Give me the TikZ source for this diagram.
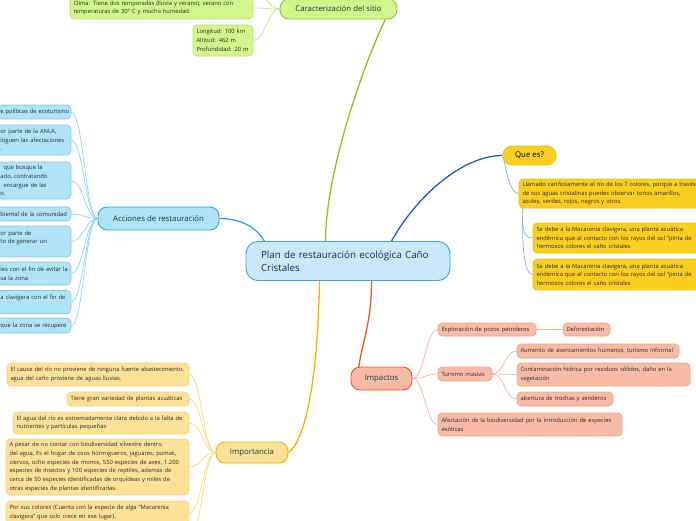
\documentclass[tikz,border=0pt]{standalone}
\usepackage{fontspec}
\setmainfont{Open Sans}
\usetikzlibrary{calc,backgrounds}

\definecolor{centerfill}{HTML}{C9E9FB}
\definecolor{centerline}{HTML}{3AA3DD}
\definecolor{centerink}{HTML}{1B2A5E}
\definecolor{topicink}{HTML}{0E3B43}
\definecolor{leafink}{HTML}{2B2B2B}
\definecolor{sitefill}{HTML}{D3F38B}
\definecolor{siteline}{HTML}{8BC540}
\definecolor{sitetrunk}{HTML}{8DC21F}
\definecolor{sitetwig}{HTML}{C5E88A}
\definecolor{actfill}{HTML}{B0E2F8}
\definecolor{actline}{HTML}{2EA3E3}
\definecolor{actleaf}{HTML}{7FCDEF}
\definecolor{acttwig}{HTML}{8CD3F3}
\definecolor{whatfill}{HTML}{F8CF1E}
\definecolor{whatline}{HTML}{E9C21A}
\definecolor{whattrunk}{HTML}{1D5FC4}
\definecolor{whattwig}{HTML}{8FB6E3}
\definecolor{hitfill}{HTML}{F8BBA6}
\definecolor{hitline}{HTML}{E8572C}
\definecolor{hitleaf}{HTML}{F3A286}
\definecolor{hittwig}{HTML}{F8B49C}
\definecolor{keyfill}{HTML}{FDE197}
\definecolor{keyline}{HTML}{F5B400}
\definecolor{keyleaf}{HTML}{FBD27C}
\definecolor{keytwig}{HTML}{FBD77F}

\newcommand{\leaftext}{\fontsize{5.8}{8.7}\selectfont}
\newcommand{\topictext}{\fontsize{7.8}{9}\selectfont}
\newcommand{\centertext}{\fontsize{9.8}{13}\selectfont}

\tikzset{
  topic/.style={draw, rounded corners=9pt, line width=0.9pt, font=\topictext,
    text=topicink, inner sep=0pt},
  leaf/.style={draw, rounded corners=4pt, line width=0.6pt, font=\leaftext,
    text=leafink, align=left, inner xsep=3.5pt, inner ysep=0pt},
  cutleaf/.style={leaf, draw=actleaf, fill=actfill, text width=67pt},
  trunk/.style={line width=1.3pt},
  twigW/.style={line width=0.7pt, out=180, in=0, distance=12pt},
  twigE/.style={line width=0.7pt, out=0, in=180, distance=12pt}
}

\begin{document}
\begin{tikzpicture}[x=1pt, y=-1pt]
\useasboundingbox (0,0) rectangle (696,520);
\clip (0,0) rectangle (696,520);

% centre
\node[draw=centerline, fill=centerfill, line width=0.9pt, rounded corners=12pt,
  font=\centertext, text=centerink, align=left, text width=174pt, inner xsep=15pt,
  minimum width=204pt, minimum height=39pt] (cen) at (348,261)
  {Plan de restauración ecológica Caño\\Cristales};

% Caracterizacion del sitio
\node[topic, draw=siteline, fill=sitefill, minimum width=117pt, minimum height=20pt]
  (car) at (338.5,9) {Caracterización del sitio};
\node[leaf, draw=sitefill!70!siteline, fill=sitefill, text width=176pt, minimum height=22pt]
  (clima) at (161.5,8) {Clima: Tiene dos temporadas (lluvia y verano), verano con\\temperaturas de 30° C y mucha humedad.};
\node[leaf, draw=sitefill!70!siteline, fill=sitefill, text width=53pt, minimum height=31pt]
  (medidas) at (223,40.5) {Longitud: 100 km\\Altitud: 462 m\\Profundidad: 20 m};
\coordinate (carmore) at (255,-8);

% Acciones de restauracion
\node[topic, draw=actline, fill=actfill, minimum width=121pt, minimum height=23pt]
  (acc) at (158.5,218.5) {Acciones de restauración};
\node[cutleaf, minimum height=14pt]
  (acc1) at (34,112) {\mbox{e políticas de ecoturismo}};
\node[cutleaf, minimum height=30pt]
  (acc2) at (34,140) {\mbox{or parte de la ANLA,}\\\mbox{itiguen las afectaciones}\\.};
\node[cutleaf, minimum height=37pt]
  (acc3) at (34,180.5) {\hspace*{3pt}\mbox{que busque la}\\\mbox{ado, contratando}\\\hspace*{3pt}\mbox{encargue de las}\\o.};
\node[cutleaf, minimum height=14pt]
  (acc4) at (34,214) {\mbox{biental de la comunidad}};
\node[cutleaf, minimum height=31pt]
  (acc5) at (34,241.5) {\mbox{or parte de}\\\mbox{to de generar un}\\\mbox{}};
\node[cutleaf, minimum height=23pt]
  (acc6) at (34,273.5) {\mbox{les con el fin de evitar la}\\\mbox{sa la zona}};
\node[cutleaf, minimum height=23pt]
  (acc7) at (34,302) {\mbox{a clavigera con el fin de}\\\mbox{}};
\node[cutleaf, minimum height=15pt]
  (acc8) at (34,325.5) {\mbox{que la zona se recupere}};

% Que es?
\node[topic, draw=whatline, fill=whatfill, text=black, minimum width=53pt, minimum height=19pt]
  (what) at (529.5,155.5) {Que es?};
\node[leaf, draw=whatline, fill=whatfill, text width=181pt, minimum height=29pt]
  (what1) at (613,193.5) {Llamado cariñosamente el río de los 7 colores, porque a través\\de sus aguas cristalinas puedes observar tonos amarillos,\\azules, verdes, rojos, negros y otros.};
\node[leaf, draw=whatline, fill=whatfill, text width=170pt, minimum height=30pt]
  (what2) at (621.5,238) {Se debe a la Macarenia clavigera, una planta acuática\\endémica que al contacto con los rayos del sol "pinta de\\hermosos colores el caño cristales};
\node[leaf, draw=whatline, fill=whatfill, text width=170pt, minimum height=31pt]
  (what3) at (621.5,274.5) {Se debe a la Macarenia clavigera, una planta acuática\\endémica que al contacto con los rayos del sol "pinta de\\hermosos colores el caño cristales};

% Impactos
\node[topic, draw=hitline, fill=hitfill, minimum width=61pt, minimum height=23pt]
  (hit) at (381.5,378.5) {Impactos};
\node[leaf, draw=hitleaf, fill=hitfill, text width=91pt, minimum height=13pt]
  (pozos) at (487,329.5) {Exploración de pozos petroleros};
\node[leaf, draw=hitleaf, fill=hitfill, text width=40pt, minimum height=13pt]
  (defo) at (586.5,329.5) {Deforestación};
\node[leaf, draw=hitleaf, fill=hitfill, text width=47pt, minimum height=14pt]
  (turismo) at (465,374) {Turismo masivo};
\node[leaf, draw=hitleaf, fill=hitfill, text width=155pt, minimum height=14pt]
  (asent) at (598,351) {Aumento de asentamientos humanos, turismo informal};
\node[leaf, draw=hitleaf, fill=hitfill, text width=166pt, minimum height=23pt]
  (conta) at (603.5,374.5) {Contaminación hídrica por residuos sólidos, daño en la\\vegetación};
\node[leaf, draw=hitleaf, fill=hitfill, text width=89pt, minimum height=14pt]
  (trochas) at (565,399) {abertura de trochas y senderos};
\node[leaf, draw=hitleaf, fill=hitfill, text width=177pt, minimum height=23pt]
  (biodiv) at (530,424.5) {Afectación de la biodiversidad por la introducción de especies\\exóticas};

% Importancia
\node[topic, draw=keyline, fill=keyfill, minimum width=72pt, minimum height=21pt]
  (key) at (252,452.5) {Importancia};
\node[leaf, draw=keyleaf, fill=keyfill, text width=175pt, minimum height=23pt]
  (key1) at (98,374.5) {El cauce del río no proviene de ninguna fuente abastecimiento,\\agua del caño proviene de aguas lluvias.};
\node[leaf, draw=keyleaf, fill=keyfill, text width=115pt, minimum height=14pt]
  (key2) at (128,399) {Tiene gran variedad de plantas acuáticas};
\node[leaf, draw=keyleaf, fill=keyfill, text width=169pt, minimum height=22pt]
  (key3) at (101,423) {El agua del río es extremadamente clara debido a la falta de\\nutrientes y partículas pequeñas};
\node[leaf, draw=keyleaf, fill=keyfill, text width=176pt, minimum height=56pt]
  (key4) at (97.5,467) {A pesar de no contar con biodiversidad silvestre dentro\\del agua, Es el hogar de osos hormigueros, jaguares, pumas,\\ciervos, ocho especies de monos, 550 especies de aves, 1.200\\especies de insectos y 100 especies de reptiles, además de\\cerca de 50 especies identificadas de orquídeas y miles de\\otras especies de plantas identificadas.};
\node[leaf, draw=keyleaf, fill=keyfill, text width=176pt, minimum height=23pt]
  (key5) at (97.5,512.5) {Por sus colores (Cuenta con la especie de alga "Macarenia\\clavigera" que solo crece en ese lugar).};
\coordinate (keymore) at (189,540);

\begin{pgfonlayer}{background}
% trunks
\draw[trunk, sitetrunk] ($(cen.north west)+(80,0)$) .. controls +(0,-70) and +(-20,40) .. ($(car.south east)+(-12,0)$);
\draw[trunk, actline] ($(cen.north west)+(19,0.5)$) .. controls +(-8,-15) and +(20,0) .. (acc.east);
\draw[trunk, whattrunk] ($(cen.north west)+(146,0)$) .. controls +(25,-45) and +(-40,0) .. (what.west);
\draw[trunk, hitline] ($(cen.south west)+(126,0)$) .. controls +(0,40) and +(5,-30) .. ($(hit.north west)+(8,1)$);
\draw[trunk, keyline] ($(cen.south west)+(74,0)$) .. controls +(-2,100) and +(17,-12) .. (key.east);
% twigs
\foreach \leafname in {clima,medidas,carmore}
  \draw[twigW, sitetwig] (car.west) to (\leafname.east);
\foreach \leafname in {acc1,acc2,acc3,acc4,acc5,acc6,acc7,acc8}
  \draw[twigW, acttwig] (acc.west) to (\leafname.east);
\draw[whattwig, line width=0.7pt] (what.west) to[out=-70, in=180, distance=10pt] (what1.west);
\foreach \leafname in {what2,what3}
  \draw[whattwig, line width=0.7pt] ($(what1.south west)+(4,0)$) to[out=-90, in=180, distance=12pt] (\leafname.west);
\foreach \leafname in {pozos,turismo,biodiv}
  \draw[twigE, hittwig] (hit.east) to (\leafname.west);
\draw[hittwig, line width=0.7pt] (pozos.east) -- (defo.west);
\foreach \leafname in {asent,conta,trochas}
  \draw[twigE, hittwig] (turismo.east) to (\leafname.west);
\foreach \leafname in {key1,key2,key3,key4,key5,keymore}
  \draw[twigW, keytwig] (key.west) to (\leafname.east);
\end{pgfonlayer}
\end{tikzpicture}
\end{document}
